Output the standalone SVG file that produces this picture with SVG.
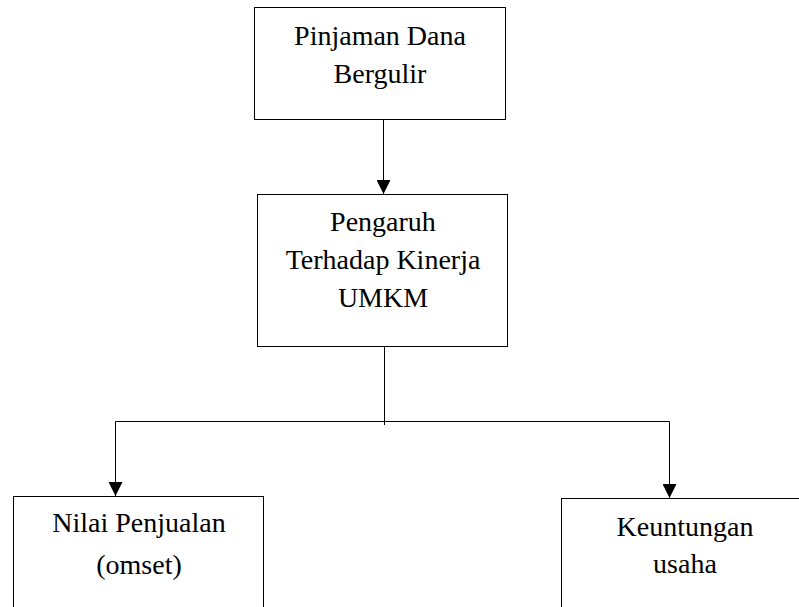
<svg xmlns="http://www.w3.org/2000/svg" width="799" height="607" viewBox="0 0 799 607">
<style>
.box{fill:#fff;stroke:#000;stroke-width:1}
.ln{fill:none;stroke:#000;stroke-width:1}
.t{font-family:"Liberation Serif","Times New Roman",serif;font-size:28px;fill:#000;text-anchor:middle}
</style>
<defs>
<marker id="ah" viewBox="0 0 14 14" refX="14" refY="7" markerWidth="14" markerHeight="14" markerUnits="userSpaceOnUse" orient="auto">
<path d="M0,0 L14,7 L0,14 Z" fill="#000"/>
</marker>
</defs>
<rect width="799" height="607" fill="#fff"/>
<g id="connectors">
<line class="ln" x1="383.5" y1="119" x2="383.5" y2="194" marker-end="url(#ah)"/>
<line class="ln" x1="384.5" y1="347" x2="384.5" y2="425"/>
<polyline class="ln" points="384.5,421.5 115.5,421.5 115.5,496" marker-end="url(#ah)"/>
<polyline class="ln" points="384.5,421.5 669.5,421.5 669.5,498" marker-end="url(#ah)"/>
</g>
<g id="node-pinjaman">
<rect class="box" x="254.5" y="7.5" width="251" height="112"/>
<text class="t" x="380" y="45">Pinjaman Dana</text>
<text class="t" x="380" y="83">Bergulir</text>
</g>
<g id="node-pengaruh">
<rect class="box" x="257.5" y="194.5" width="250" height="152"/>
<text class="t" x="383" y="231">Pengaruh</text>
<text class="t" x="383" y="269">Terhadap Kinerja</text>
<text class="t" x="383" y="307">UMKM</text>
</g>
<g id="node-nilai">
<rect class="box" x="13.5" y="496.5" width="250" height="130"/>
<text class="t" x="139" y="532">Nilai Penjualan</text>
<text class="t" x="139" y="574">(omset)</text>
</g>
<g id="node-keuntungan">
<rect class="box" x="561.5" y="498.5" width="250" height="130"/>
<text class="t" x="685" y="536">Keuntungan</text>
<text class="t" x="685" y="573">usaha</text>
</g>
</svg>
